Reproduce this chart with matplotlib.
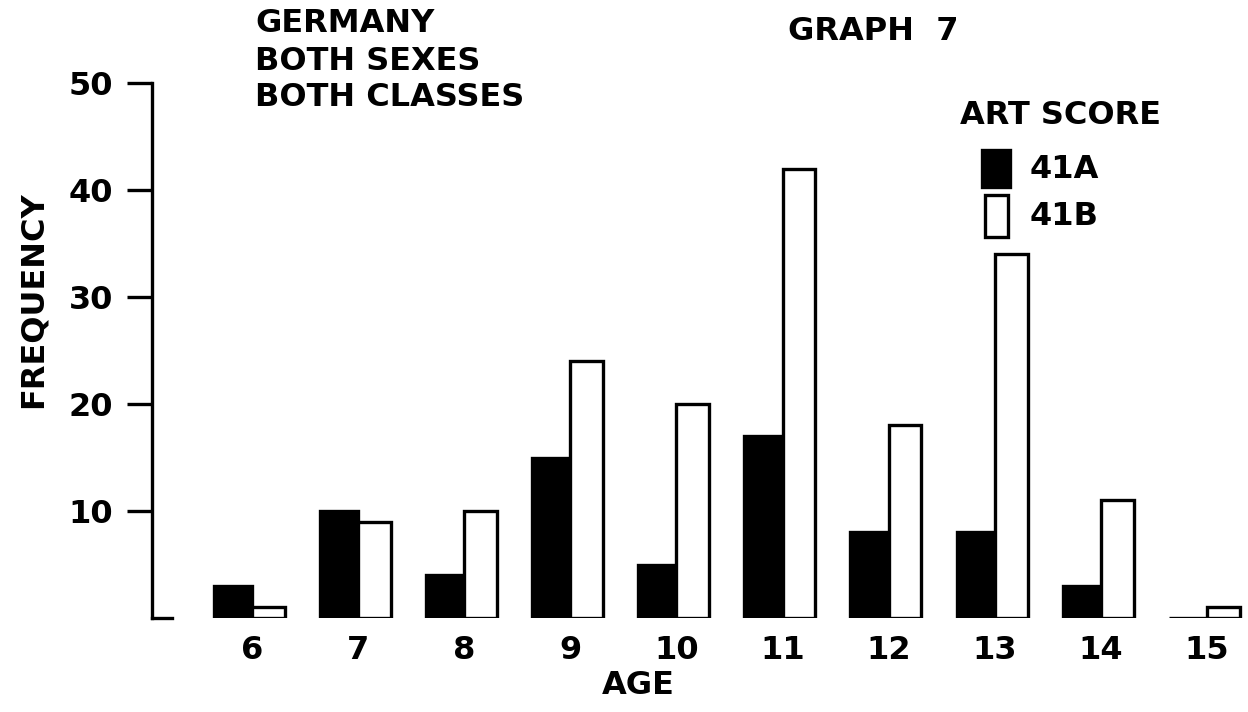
import matplotlib.pyplot as plt
import numpy as np

# Data (Graph 7, Germany, both sexes, both classes)
ages = [6, 7, 8, 9, 10, 11, 12, 13, 14, 15]
freq_41a = [3, 10, 4, 15, 5, 17, 8, 8, 3, 0]
freq_41b = [1, 9, 10, 24, 20, 42, 18, 34, 11, 1]
y_ticks = [10, 20, 30, 40, 50]

W, H = 1248, 712
fig = plt.figure(figsize=(W / 100, H / 100), dpi=100)
plt.rcParams["font.family"] = ["DejaVu Sans"]
font = dict(fontsize=23, fontweight="bold", color="black")

# axes placed from pixel measurements of the reference
left, bottom, top = 152 / W, 1 - 618 / H, 1 - 83 / H
ax = fig.add_axes([left, bottom, 1 - left, top - bottom])

x = np.array(ages, dtype=float)
w_a, w_b = 0.36, 0.31
lw = 2.4
ax.bar(x, freq_41a, width=-w_a, align="edge", color="black",
       edgecolor="black", linewidth=lw, label="41A")
ax.bar(x, freq_41b, width=w_b, align="edge", color="white",
       edgecolor="black", linewidth=lw, label="41B")

ax.set_xlim(6 - 100 / 106.1, 6 + 996 / 106.1)
ax.set_ylim(0, 50)

for side in ["top", "right", "bottom"]:
    ax.spines[side].set_visible(False)
ax.spines["left"].set_linewidth(lw)
ax.axhline(0, xmin=0, xmax=20 / 1096, color="black", lw=lw, clip_on=False)

ax.set_yticks(y_ticks)
ax.set_yticklabels([str(v) for v in y_ticks], **font)
ax.tick_params(axis="y", length=18, width=lw, pad=10)
ax.set_xticks(ages)
ax.set_xticklabels([str(a) for a in ages], **font)
ax.tick_params(axis="x", length=0, pad=12)

# Titles and labels
def px(xp, yp):
    return xp / W, 1 - yp / H

fig.text(*px(255, 24), "GERMANY", ha="left", va="center", **font)
fig.text(*px(255, 61), "BOTH SEXES", ha="left", va="center", **font)
fig.text(*px(255, 98), "BOTH CLASSES", ha="left", va="center", **font)
fig.text(*px(788, 31), "GRAPH  7", ha="left", va="center", **font)
fig.text(*px(960, 116), "ART SCORE", ha="left", va="center", **font)
fig.text(*px(1030, 170), "41A", ha="left", va="center", **font)
fig.text(*px(1030, 216), "41B", ha="left", va="center", **font)
fig.text(*px(33, 300), "FREQUENCY", ha="center", va="center", rotation=90, **font)
fig.text(*px(638, 686), "AGE", ha="center", va="center", **font)

# legend swatches
fig.patches.append(plt.Rectangle(px(982, 187), 28 / W, 37 / H, transform=fig.transFigure,
                                 facecolor="black", edgecolor="black", lw=lw))
fig.patches.append(plt.Rectangle(px(985, 237), 23 / W, 42 / H, transform=fig.transFigure,
                                 facecolor="white", edgecolor="black", lw=lw))

fig.savefig("out.png", dpi=100, facecolor="white")
